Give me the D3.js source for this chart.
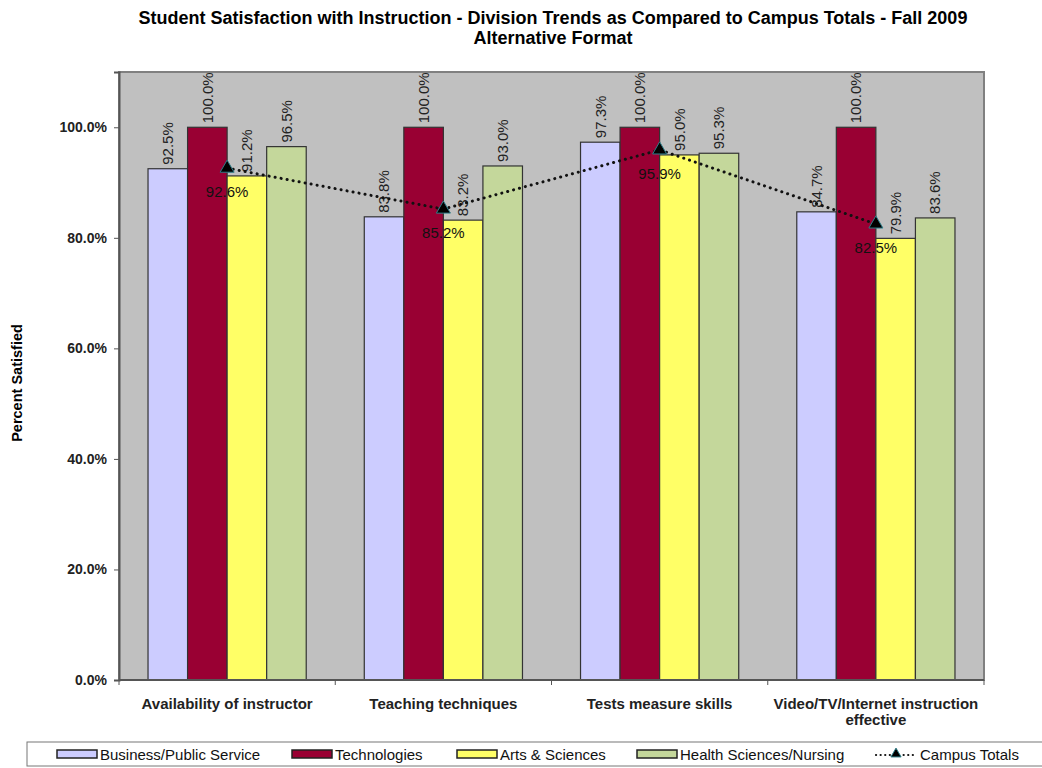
<!DOCTYPE html>
<html>
<head>
<meta charset="utf-8">
<script src="https://cdn.jsdelivr.net/npm/d3@7"></script>
<style>
  body { margin: 0; background: #fff; }
  svg { font-family: Arial, "Liberation Sans", sans-serif; }
</style>
</head>
<body>
<div id="chart"></div>
<script>
var categories = ["Availability of instructor", "Teaching techniques", "Tests measure skills", "Video/TV/Internet instruction effective"],
    catLines = [["Availability of instructor"], ["Teaching techniques"], ["Tests measure skills"], ["Video/TV/Internet instruction", "effective"]],
    series = ["Business/Public Service", "Technologies", "Arts & Sciences", "Health Sciences/Nursing"],
    business = [92.5, 83.8, 97.3, 84.7],
    technologies = [100.0, 100.0, 100.0, 100.0],
    arts = [91.2, 83.2, 95.0, 79.9],
    health = [96.5, 93.0, 95.3, 83.6],
    campus = [92.6, 85.2, 95.9, 82.5],
    yTicks = [0, 20, 40, 60, 80, 100];

var colors = ["#CCCCFF", "#990033", "#FFFF66", "#C4D79B"];
var seriesValues = [business, technologies, arts, health];

var width = 1042, height = 768,
    margin = { top: 72, right: 58, bottom: 88, left: 119 };

var svg = d3.select("#chart").append("svg")
  .attr("width", width)
  .attr("height", height);

// title
svg.append("text")
  .attr("x", 553).attr("y", 24)
  .attr("text-anchor", "middle")
  .style("font-size", "18px").style("font-weight", "bold")
  .text("Student Satisfaction with Instruction - Division Trends as Compared to Campus Totals - Fall 2009");
svg.append("text")
  .attr("x", 553).attr("y", 44)
  .attr("text-anchor", "middle")
  .style("font-size", "18px").style("font-weight", "bold")
  .text("Alternative Format");

var x0 = d3.scaleBand()
  .domain(categories)
  .range([margin.left, width - margin.right]);

var x1 = d3.scaleBand()
  .domain(series)
  .range([0, x0.bandwidth()])
  .paddingOuter(0.734);

var y = d3.scaleLinear()
  .domain([0, 110])
  .range([height - margin.bottom, margin.top]);

// plot background
svg.append("rect")
  .attr("x", margin.left).attr("y", margin.top)
  .attr("width", width - margin.left - margin.right)
  .attr("height", height - margin.top - margin.bottom)
  .attr("fill", "#C0C0C0")
  .attr("stroke", "#808080")
  .attr("stroke-width", 2);

// bars
var groups = svg.append("g").selectAll("g")
  .data(series)
  .enter().append("g")
  .attr("fill", function(d, i) { return colors[i]; });

groups.selectAll("rect")
  .data(function(d, i) {
    return seriesValues[i].map(function(v, j) { return { s: d, c: categories[j], v: v }; });
  })
  .enter().append("rect")
  .attr("x", function(d) { return x0(d.c) + x1(d.s); })
  .attr("y", function(d) { return y(d.v); })
  .attr("width", x1.bandwidth())
  .attr("height", function(d) { return y(0) - y(d.v); })
  .attr("stroke", "#333")
  .attr("stroke-width", 1.2);

// bar value labels
groups.selectAll("text")
  .data(function(d, i) {
    return seriesValues[i].map(function(v, j) { return { s: d, c: categories[j], v: v }; });
  })
  .enter().append("text")
  .attr("transform", function(d) {
    var cx = x0(d.c) + x1(d.s) + x1.bandwidth() / 2;
    return "translate(" + cx + "," + (y(d.v) - 4) + ") rotate(-90)";
  })
  .attr("dy", "0.35em")
  .attr("fill", "#222")
  .style("font-size", "15px")
  .text(function(d) { return d.v.toFixed(1) + "%"; });

// y axis
var yAxis = d3.axisLeft(y)
  .tickValues(yTicks)
  .tickSize(5)
  .tickFormat(function(d) { return d.toFixed(1) + "%"; });

var yG = svg.append("g")
  .attr("transform", "translate(" + margin.left + ",0)")
  .call(yAxis);
yG.select(".domain").attr("stroke", "#555").attr("stroke-width", 2);
yG.selectAll(".tick line").attr("stroke", "#555");
yG.selectAll(".tick text")
  .attr("x", -12)
  .style("font-size", "14px").style("font-weight", "bold")
  .style("font-family", "Arial, 'Liberation Sans', sans-serif")
  .attr("fill", "#222");

// x axis line and ticks at group boundaries
var xG = svg.append("g");
xG.append("line")
  .attr("x1", margin.left).attr("x2", width - margin.right)
  .attr("y1", y(0)).attr("y2", y(0))
  .attr("stroke", "#555").attr("stroke-width", 2);
xG.selectAll("line.tk")
  .data(categories.concat(["end"]))
  .enter().append("line")
  .attr("class", "tk")
  .attr("x1", function(d, i) { return margin.left + i * x0.step(); })
  .attr("x2", function(d, i) { return margin.left + i * x0.step(); })
  .attr("y1", y(0)).attr("y2", y(0) + 5)
  .attr("stroke", "#555");

xG.selectAll("text.cat")
  .data(categories)
  .enter().append("text")
  .attr("class", "cat")
  .attr("text-anchor", "middle")
  .attr("x", function(d) { return x0(d) + x0.bandwidth() / 2; })
  .attr("y", 709)
  .style("font-size", "15px").style("font-weight", "bold")
  .attr("fill", "#222")
  .selectAll("tspan")
  .data(function(d, i) { return catLines[i]; })
  .enter().append("tspan")
  .attr("x", function() { return d3.select(this.parentNode).attr("x"); })
  .attr("dy", function(d, i) { return i === 0 ? 0 : 16; })
  .text(function(d) { return d; });

// y axis title
svg.append("text")
  .attr("transform", "translate(22," + 383 + ") rotate(-90)")
  .attr("text-anchor", "middle")
  .style("font-size", "14.5px").style("font-weight", "bold")
  .text("Percent Satisfied");

// campus totals line
var line = d3.line()
  .x(function(d, i) { return x0(categories[i]) + x0.bandwidth() / 2; })
  .y(function(d) { return y(d); });

svg.append("path")
  .datum(campus)
  .attr("d", line)
  .attr("fill", "none")
  .attr("stroke", "#111")
  .attr("stroke-width", 3)
  .attr("stroke-dasharray", "0.1,6")
  .attr("stroke-linecap", "round");

var tri = d3.symbol().type(d3.symbolTriangle).size(85);

svg.append("g").selectAll("path")
  .data(campus)
  .enter().append("path")
  .attr("d", tri)
  .attr("transform", function(d, i) {
    return "translate(" + (x0(categories[i]) + x0.bandwidth() / 2) + "," + y(d) + ")";
  })
  .attr("fill", "#000")
  .attr("stroke", "#2E7F8A")
  .attr("stroke-width", 1);

svg.append("g").selectAll("text")
  .data(campus)
  .enter().append("text")
  .attr("x", function(d, i) { return x0(categories[i]) + x0.bandwidth() / 2; })
  .attr("y", function(d) { return y(d) + 29; })
  .attr("text-anchor", "middle")
  .attr("fill", "#111")
  .style("font-size", "15px")
  .text(function(d) { return d.toFixed(1) + "%"; });

// legend
var legend = svg.append("g");
legend.append("rect")
  .attr("x", 27).attr("y", 742)
  .attr("width", 1020).attr("height", 24)
  .attr("fill", "#fff")
  .attr("stroke", "#777");

var legendX = [57, 292, 457, 637];
series.forEach(function(s, i) {
  legend.append("rect")
    .attr("x", legendX[i]).attr("y", 750)
    .attr("width", 40).attr("height", 8)
    .attr("fill", colors[i])
    .attr("stroke", "#222").attr("stroke-width", 1.5);
  legend.append("text")
    .attr("x", legendX[i] + 43).attr("y", 759.5)
    .style("font-size", "15px")
    .attr("fill", "#111")
    .text(s);
});
legend.append("line")
  .attr("x1", 876).attr("x2", 916)
  .attr("y1", 755).attr("y2", 755)
  .attr("stroke", "#111").attr("stroke-width", 2.2)
  .attr("stroke-dasharray", "0.1,4.5").attr("stroke-linecap", "round");
legend.append("path")
  .attr("d", d3.symbol().type(d3.symbolTriangle).size(45))
  .attr("transform", "translate(896,754)")
  .attr("fill", "#000").attr("stroke", "#2E7F8A");
legend.append("text")
  .attr("x", 920).attr("y", 759.5)
  .style("font-size", "15px")
  .attr("fill", "#111")
  .text("Campus Totals");
</script>
</body>
</html>
